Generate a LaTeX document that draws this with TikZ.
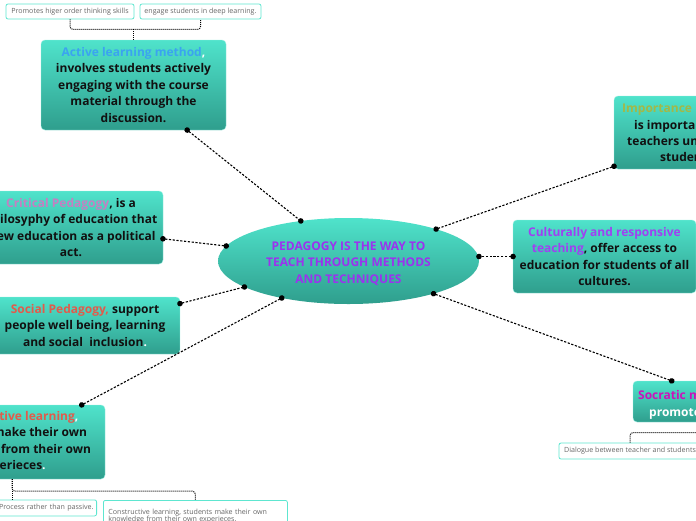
\documentclass[tikz,border=0pt]{standalone}
\usepackage{fontspec}
\setmainfont{Open Sans}
\usetikzlibrary{positioning,shapes,calc,arrows.meta}

\definecolor{boxtop}{HTML}{4FE3CB}
\definecolor{boxbot}{HTML}{2F9E8D}
\definecolor{bodytext}{HTML}{111111}
\definecolor{notetext}{HTML}{666666}
\definecolor{notedraw}{HTML}{5EE6D0}
\definecolor{hubtext}{HTML}{9B33EE}
\definecolor{activeblue}{HTML}{3BA3F0}
\definecolor{importolive}{HTML}{A3B847}
\definecolor{culturpurple}{HTML}{A040F2}
\definecolor{criticmauve}{HTML}{C47FC2}
\definecolor{socialred}{HTML}{E25B4B}
\definecolor{socratmagenta}{HTML}{CC11BB}

\begin{document}
\begin{tikzpicture}[x=1pt,y=-1pt,
	topic/.style={rectangle, rounded corners=4pt, top color=boxtop, bottom color=boxbot, draw=boxtop!60!white, line width=0.4pt, align=center, text=bodytext, font=\bfseries\fontsize{12}{16.5}\selectfont, inner sep=0pt},
	hub/.style={ellipse, top color=boxtop, bottom color=boxbot, draw=none, align=center, text=hubtext, font=\bfseries\fontsize{12}{16.5}\selectfont, inner sep=0pt, minimum width=261pt, minimum height=86pt, text height=47.6pt, text depth=2.9pt},
	note/.style={rectangle, rounded corners=2pt, draw=notedraw, line width=0.8pt, fill=white, text=notetext, font=\fontsize{7.1}{8.8}\selectfont, inner sep=3pt, minimum height=15pt},
	frag/.style={anchor=base west, inner sep=0pt, text=bodytext, font=\bfseries\fontsize{12}{16.5}\selectfont},
	link/.style={line width=1.1pt, dash pattern=on 2.2pt off 1.6pt, shorten <=-3pt, shorten >=-3pt, {Circle[length=5.5pt]}-{Circle[length=5.5pt]}},
	bracket/.style={line width=1pt, densely dotted, rounded corners=3pt}]
			\useasboundingbox (0,0) rectangle (696,520);
			\clip (0,0) rectangle (696,520);
			
			\node[hub] (center) at (348.5,261) {PEDAGOGY IS THE WAY TO\\TEACH THROUGH METHODS\\AND TECHNIQUES};
			
			\node[topic, minimum width=185pt, minimum height=90pt] (active) at (133.5,85) {\textcolor{activeblue}{Active learning method}\textcolor{white}{,}\\involves students actively\\engaging with the course\\material through the\\discussion.};
			\node[topic, minimum width=176pt, minimum height=73pt] (importance) at (702,132.5) {};
			\node[frag, text=importolive] (imp1) at (622,112) {Importance};
			\node[frag] (imp2) at (634,129) {is importan};
			\node[frag] (imp3) at (627,145.5) {teachers un};
			\node[frag] (imp4) at (660,161.5) {studen};
			\node[topic, minimum width=183pt, minimum height=73pt] (cultural) at (604.5,256.5) {\textcolor{culturpurple}{Culturally and responsive}\\\textcolor{culturpurple}{teaching}, offer access to\\education for students of all\\cultures.};
			\node[topic, minimum width=184pt, minimum height=73pt] (critical) at (71,227.5) {\textcolor{criticmauve}{Critical Pedagogy}, is a\\philosyphy of education that\\view education as a political\\act.};
			\node[topic, minimum width=190pt, minimum height=57pt] (social) at (85,325.5) {\textcolor{socialred}{Social Pedagogy,} support\\people well being, learning\\and social\ \ inclusion\textcolor{white}{.}};
			\node[topic, minimum width=186pt, minimum height=74pt] (constructive) at (12,442) {\textcolor{socialred}{Constructive learning}\textcolor{white}{,}\\students make their own\\knowledge from their own\\experieces\textcolor{white}{.}};
			\node[topic, minimum width=170pt, minimum height=41pt] (socratic) at (718,401.5) {};
			\node[frag, text=socratmagenta] (soc1) at (638,399.5) {Socratic m};
			\node[frag, text=white] (soc2) at (649,416) {promote};
			
			\node[note, minimum width=128pt] (higher) at (70,11.5) {Promotes higer order thinking skills};
			\node[note, minimum width=121pt] (deep) at (200.5,11.5) {engage students in deep learning.};
			\node[note, anchor=north east, text width=104pt, minimum height=16pt, align=right] (process) at (97,499.5) {Process rather than passive.};
			\node[note, anchor=north west, text width=174pt, minimum height=32pt, align=left, inner sep=5pt] (constrnote) at (103,500) {Constructive learning, students make their own\\[-1.5pt]knowledge from their own experieces.};
			\node[note, minimum width=142pt, minimum height=16pt, inner xsep=2pt] (dialogue) at (630,451) {Dialogue between teacher and students};
			
			\draw[link] (active.-40) -- (center.140);
			\draw[link] (importance.201) -- (center.20);
			\draw[link] (cultural.west) -- (cultural.west -| center.east);
			\draw[link] (critical.-7) -- (center.173);
			\draw[link] (social.13.5) -- (center.194);
			\draw[link] (constructive.28.5) -- (center.209);
			\draw[link] (socratic.156.7) -- (center.-21);
			
			\draw[bracket] (higher.south) -- ++(0,10) -| (deep.south);
			\draw[bracket] (active.north) -- ++(0,-11);
			\draw[bracket] (constructive.south) -- (constructive.south |- process.north);
			\draw[bracket] (constructive.south) -- ++(0,12) -| (constrnote.north);
			\draw[bracket] (dialogue.north) -- ++(0,-10) -| (socratic.south);
			\end{tikzpicture}
\end{document}
